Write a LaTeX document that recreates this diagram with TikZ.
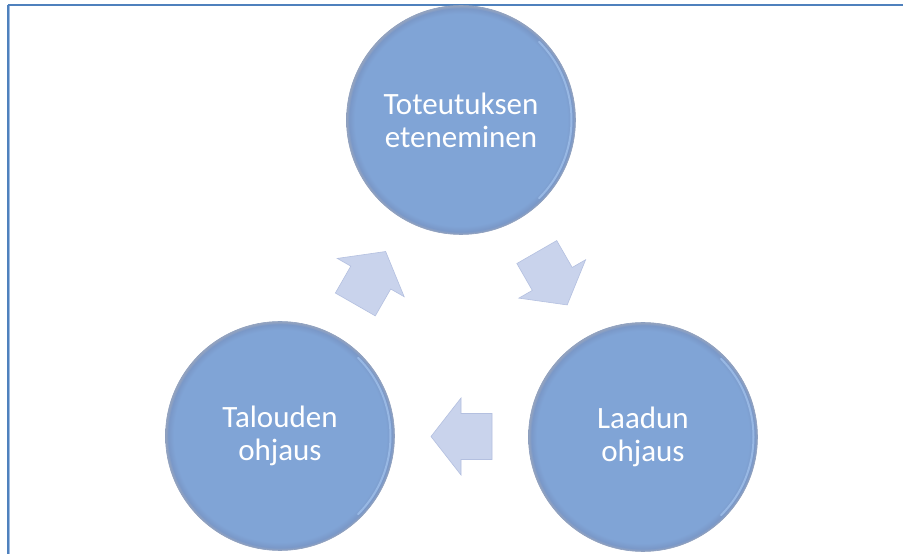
\documentclass[tikz,border=0pt]{standalone}
\usepackage{fontspec}
\setmainfont{Carlito}
\usetikzlibrary{calc}
\definecolor{frameblue}{RGB}{79,129,189}
\definecolor{framelight}{RGB}{160,188,224}
\definecolor{cbase}{RGB}{128,164,214}
\definecolor{cmid}{RGB}{122,152,200}
\definecolor{crim}{RGB}{150,164,190}
\definecolor{cedge}{RGB}{140,158,190}
\definecolor{chigh}{RGB}{176,208,248}
\definecolor{afill}{RGB}{201,211,236}
\definecolor{aedge}{RGB}{180,192,224}
\pgfdeclareradialshading{circsh}{\pgfpoint{0bp}{0bp}}{color(0bp)=(cbase); color(23.2bp)=(cbase); color(24.4bp)=(cmid); color(25bp)=(crim); color(50bp)=(crim)}
\begin{document}
\begin{tikzpicture}[x=1pt,y=1pt,
  circ/.style={circle, minimum size=229pt, inner sep=0pt, shading=circsh, draw=cedge, line width=0.6pt, text=white, align=center, font=\fontsize{31}{33}\selectfont},
  blockarr/.style={fill=afill, draw=aedge, line width=0.6pt, line join=miter},
  highlight/.style={chigh, line width=2pt, opacity=0.55, line cap=round},
  blockarrow/.pic={\path[blockarr] (30.5,0) -- (0.5,38.5) -- (0.5,23) -- (-30.5,23) -- (-30.5,-23) -- (0.5,-23) -- (0.5,-38.5) -- cycle;}]
\useasboundingbox (0,0) rectangle (903,554);
\fill[white] (0,0) rectangle (903,554);
\draw[frameblue, line width=2pt] (7.5,549) -- (903,549);
\draw[frameblue, line width=1.8pt] (8.2,549) -- (8.2,0);
\draw[framelight, line width=1.2pt] (9.8,548) -- (9.8,0);

\node[circ] (top) at (461,434) {Toteutuksen\\eteneminen};
\node[circ] (bl) at (280,118) {Talouden\\ohjaus};
\node[circ] (br) at (643,117) {Laadun\\ohjaus};

\foreach \n in {top,bl,br}{
  \draw[highlight] ($(\n.center)+(-45:110.5)$) arc[start angle=-45, end angle=45, radius=110.5];
}

\path pic[rotate=60.2] at ($(bl)!0.5!(top)$) {blockarrow};
\path pic[rotate=-60.1] at ($(top)!0.5!(br)$) {blockarrow};
\path pic[rotate=180] at ($(br)!0.5!(bl)$) {blockarrow};
\end{tikzpicture}
\end{document}
